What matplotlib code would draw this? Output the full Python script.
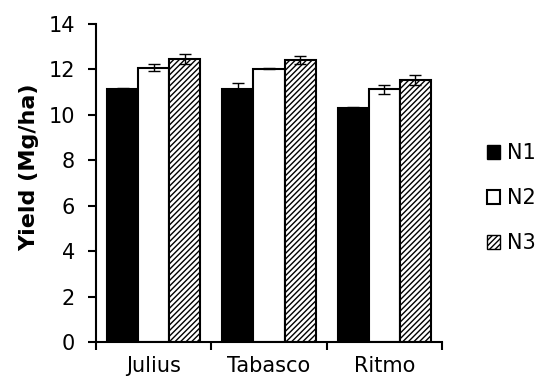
import numpy as np
import matplotlib.pyplot as plt
from matplotlib.patches import Patch

plt.rcParams['font.family'] = ['DejaVu Sans']
plt.rcParams['hatch.linewidth'] = 1.0

cultivars = ['Julius', 'Tabasco', 'Ritmo']
treatments = ['N1', 'N2', 'N3']

# mean yield (Mg/ha) and standard error per treatment
n1 = [11.15, 11.15, 10.32]
n2 = [12.08, 12.03, 11.13]
n3 = [12.48, 12.42, 11.52]
n1_err = [0.05, 0.24, 0.04]
n2_err = [0.17, 0.03, 0.19]
n3_err = [0.22, 0.19, 0.22]

fig = plt.figure(figsize=(5.41, 3.76), dpi=100)
ax = fig.add_axes([96/541, 34/376, 346/541, 318/376])

x = np.arange(len(cultivars))
w = 0.27
styles = [dict(facecolor='black', hatch=None),
          dict(facecolor='white', hatch=None),
          dict(facecolor='white', hatch='//////')]
for i, (vals, errs) in enumerate([(n1, n1_err), (n2, n2_err), (n3, n3_err)]):
    ax.bar(x + (i - 1) * w, vals, w, yerr=errs, edgecolor='black',
           linewidth=1.5, capsize=4, error_kw=dict(elinewidth=1, capthick=1),
           label=treatments[i], **styles[i])

ax.set_xlim(-0.5, 2.5)
ax.set_ylim(0, 14)
ax.set_yticks(range(0, 15, 2))
ax.set_xticks([-0.5, 0.5, 1.5, 2.5])
ax.set_xticklabels([])
ax.set_xticks(x, minor=True)
ax.set_xticklabels(cultivars, minor=True)
ax.tick_params(axis='x', which='minor', length=0, pad=10, labelsize=15)
ax.tick_params(axis='both', which='major', length=6, width=1.5, labelsize=15)
ax.tick_params(axis='y', pad=9)
ax.spines['top'].set_visible(False)
ax.spines['right'].set_visible(False)
for s in ['left', 'bottom']:
    ax.spines[s].set_linewidth(1.5)
ax.set_ylabel('Yield (Mg/ha)', fontsize=16, fontweight='bold')
ax.yaxis.set_label_coords(-0.165, 0.55)

handles = [Patch(facecolor='black', edgecolor='black'),
           Patch(facecolor='white', edgecolor='black', linewidth=1.5),
           Patch(facecolor='white', edgecolor='black', hatch='//////')]
fig.legend(handles, treatments, loc='center left', bbox_to_anchor=(0.865, 0.473),
           frameon=False, fontsize=15, handlelength=0.65, handleheight=0.65,
           handletextpad=0.3, labelspacing=1.2)

fig.savefig('out.png', dpi=100)
